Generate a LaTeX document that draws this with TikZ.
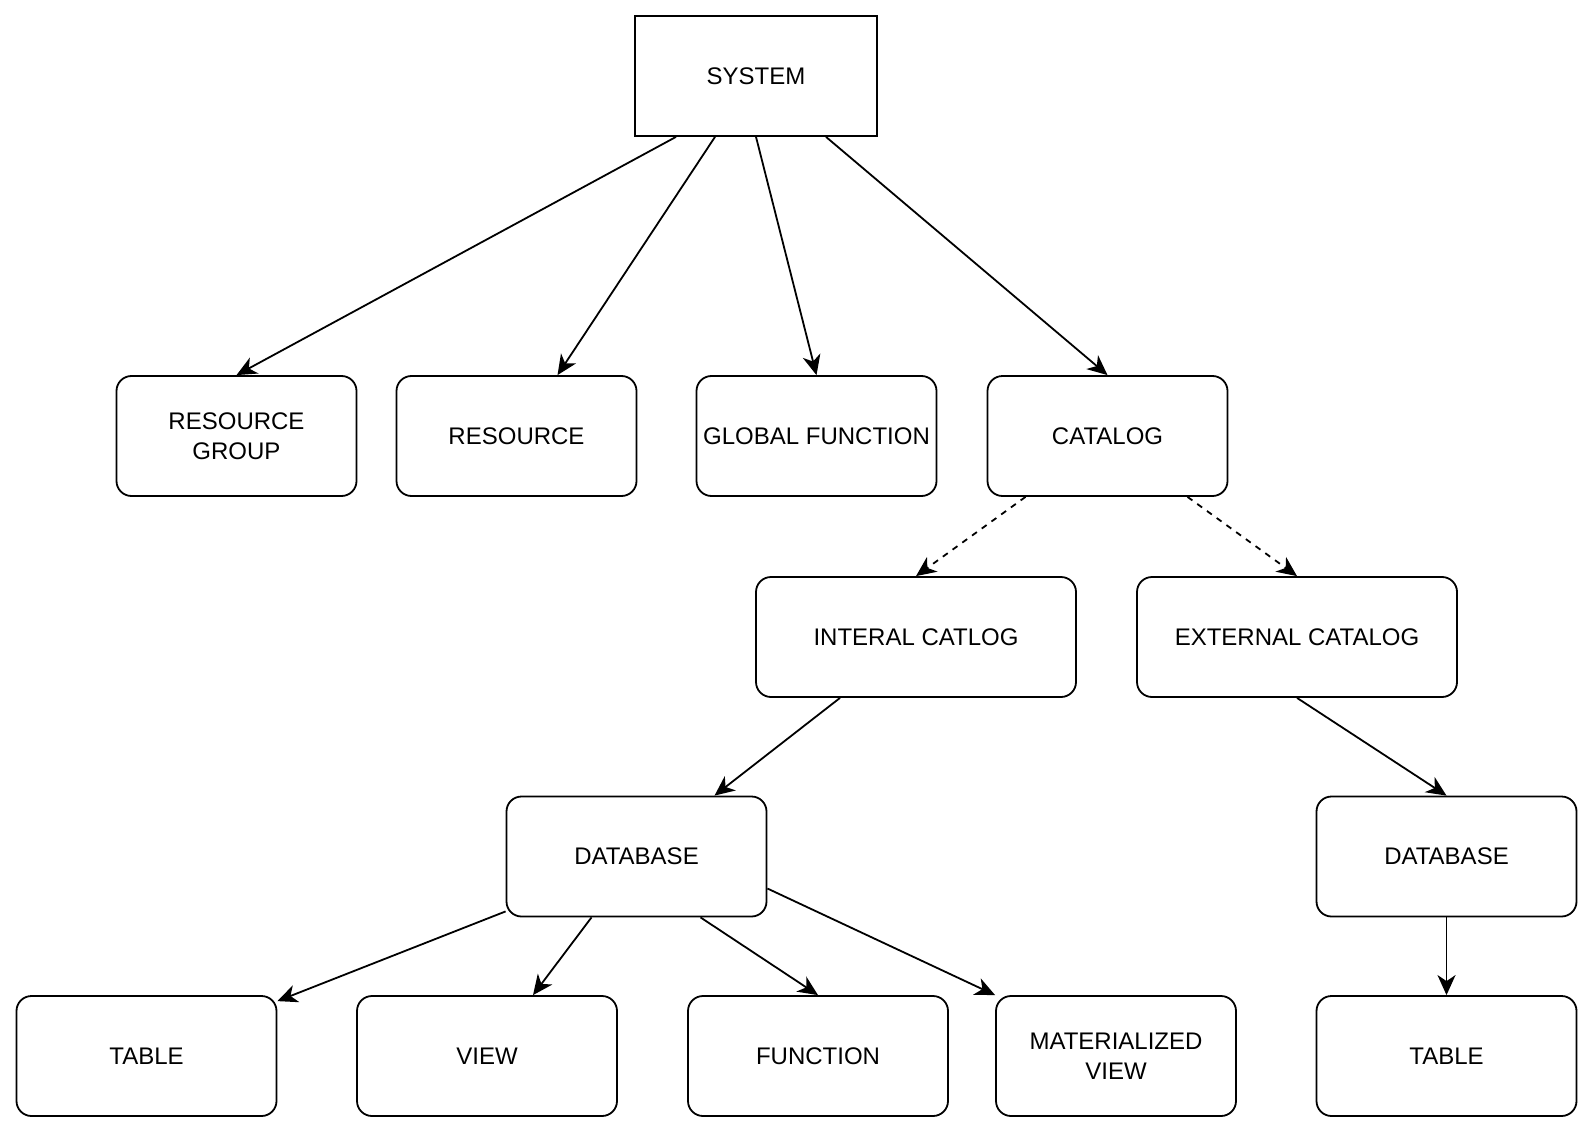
\documentclass[tikz,border=0pt]{standalone}
\usepackage{fontspec}
\setmainfont{Liberation Sans}
\usetikzlibrary{positioning,arrows.meta}

\begin{document}
\begin{tikzpicture}[x=0.5pt,y=-0.5pt,line width=0.9pt,>={Stealth[length=10pt,width=9pt,inset=3pt]},
	every node/.style={draw=black,rounded corners=7.5pt,minimum height=60pt,align=center,inner sep=0pt,font=\fontsize{12}{15}\selectfont},
	small/.style={minimum width=120pt},
	wide/.style={minimum width=160pt},
	mid/.style={minimum width=130pt}]

		\useasboundingbox (0,0) rectangle (1594,1134);

		%top node
		\node[sharp corners,minimum width=121pt] (sys) at (756,76) {SYSTEM};

		%second row
		\node[small] (rg) at (236.5,436) {RESOURCE\\GROUP};
		\node[small] (res) at (516.5,436) {RESOURCE};
		\node[small] (gf) at (816.5,436) {GLOBAL FUNCTION};
		\node[small] (cat) at (1107.5,436) {CATALOG};

		%catalogs
		\node[wide] (icat) at (916,637) {INTERAL CATLOG};
		\node[wide] (ecat) at (1297,637) {EXTERNAL CATALOG};

		%databases
		\node[mid] (db) at (636.5,856.5) {DATABASE};
		\node[mid] (edb) at (1446.5,856.5) {DATABASE};

		%bottom row
		\node[mid] (tbl) at (146.5,1056) {TABLE};
		\node[mid] (view) at (487,1056) {VIEW};
		\node[mid] (func) at (818,1056) {FUNCTION};
		\node[small] (mview) at (1116,1056) {MATERIALIZED\\VIEW};
		\node[mid] (etbl) at (1446.5,1056) {TABLE};

		%edges
		\draw[->] ([xshift=-40pt]sys.south) -- (rg.north);
		\draw[->] ([xshift=-20.5pt]sys.south) -- ([xshift=20.5pt]res.north);
		\draw[->] (sys.south) -- (gf.north);
		\draw[->] ([xshift=35pt]sys.south) -- (cat.north);

		\draw[->,dashed] ([xshift=-41pt]cat.south) -- (icat.north);
		\draw[->,dashed] ([xshift=40pt]cat.south) -- (ecat.north);

		\draw[->] ([xshift=-38pt]icat.south) -- ([xshift=39pt]db.north);
		\draw[->] (ecat.south) -- (edb.north);

		\draw[->] ([yshift=3pt]db.south west) -- ([yshift=-3pt]tbl.north east);
		\draw[->] ([xshift=-22.5pt]db.south) -- ([xshift=23pt]view.north);
		\draw[->] ([xshift=32pt]db.south) -- (func.north);
		\draw[->] ([yshift=-16pt]db.east) -- (mview.north west);
		\draw[->] (edb.south) -- (etbl.north);

\end{tikzpicture}
\end{document}
